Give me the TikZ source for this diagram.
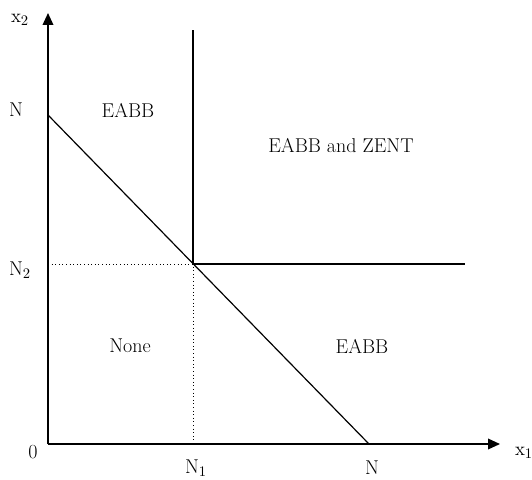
\documentclass[tikz,border=0pt]{standalone}
\usepackage{amsmath,amssymb}
\usepackage{tikz}
\usetikzlibrary{positioning,arrows.meta,calc}

\begin{document}
\begin{tikzpicture}[x=0.75pt,y=0.75pt,font=\fontsize{15}{18}\selectfont,
    axis/.style={line width=1.1pt,-{Triangle[length=9pt,width=8pt]}},
    border/.style={line width=0.9pt},
    guide/.style={line width=0.7pt,dotted}]
    \useasboundingbox (0,0) rectangle (532,479);
    \coordinate (O) at (48,35);
    \coordinate (xend) at (500,35);
    \coordinate (yend) at (48,466);
    \coordinate (diagtop) at (48,364);
    \coordinate (diagbot) at (369,35);
    \coordinate (P) at (193,215);
    \coordinate (vtop) at (193,449);
    \coordinate (hend) at (465,215);
    \coordinate (yN2) at (48,215);
    \coordinate (xN1) at (193,35);

    \draw[axis] (O) -- (xend);
    \draw[axis] (O) -- (yend);
    \draw[border] (diagtop) -- (diagbot);
    \draw[border] (P) -- (vtop);
    \draw[border] (P) -- (hend);
    \draw[guide] (yN2) -- (P) -- (xN1);

    \node (lx2) at (20,459) {$\mathrm{x}_2$};
    \node (lx1) at (524,26) {$\mathrm{x}_1$};
    \node (lNy) at (16,369) {N};
    \node (lN2) at (20,209) {N$_2$};
    \node (lO) at (33,27) {0};
    \node (lN1) at (196,11) {N$_1$};
    \node (lNx) at (372,11) {N};

    \node (eabbtop) at (128,369) {EABB};
    \node (both) at (341,333) {EABB and ZENT};
    \node (none) at (130,133) {None};
    \node (eabbbot) at (362,133) {EABB};
\end{tikzpicture}
\end{document}
